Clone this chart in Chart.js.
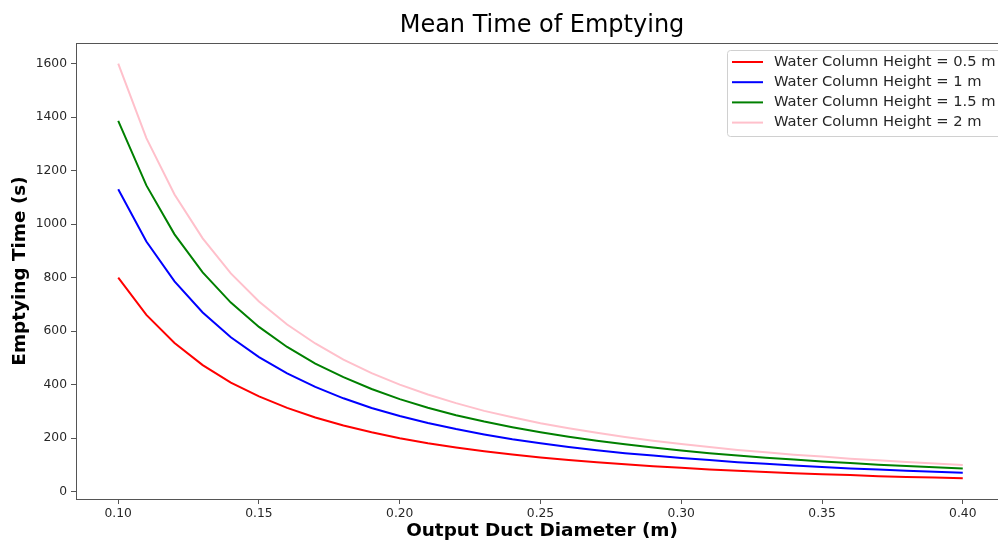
<!DOCTYPE html>
<html>
<head>
<meta charset="utf-8">
<script src="https://cdn.jsdelivr.net/npm/chart.js@4.4.0/dist/chart.umd.min.js"></script>
<style>
    html, body { margin: 0; padding: 0; background: #fff; overflow: hidden; }
    #wrap { width: 1008px; height: 541px; position: relative; }
</style>
</head>
<body>
<div id="wrap"><canvas id="chart"></canvas></div>
<script>
    "use strict";

    // ---- data ----
    const diameters = [0.10, 0.11, 0.12, 0.13, 0.14, 0.15, 0.16, 0.17, 0.18, 0.19, 0.20,
        0.21, 0.22, 0.23, 0.24, 0.25, 0.26, 0.27, 0.28, 0.29, 0.30,
        0.31, 0.32, 0.33, 0.34, 0.35, 0.36, 0.37, 0.38, 0.39, 0.40];

    const heightHalf = [800, 661, 556, 473, 408, 356, 313, 277, 247, 222, 200,
        181, 165, 151, 139, 128, 118, 110, 102, 95, 89,
        83, 78, 73.5, 69, 65, 62, 58, 55, 53, 50];

    const heightOne = [1131, 935, 786, 670, 577, 503, 442, 392, 349, 313, 283,
        257, 234, 214, 196, 181, 167, 155, 144, 135, 126,
        118, 110, 104, 98, 92, 87, 83, 78, 74, 71];

    const heightOneHalf = [1386, 1145, 962, 820, 707, 616, 541, 479, 428, 384, 346,
        314, 286, 262, 241, 222, 205, 190, 177, 165, 154,
        144, 135, 127, 120, 113, 107, 101, 96, 91, 87];

    const heightTwo = [1600, 1322, 1111, 947, 816, 711, 625, 554, 494, 443, 400,
        363, 331, 302, 278, 256, 237, 220, 204, 190, 178,
        167, 156, 147, 138, 131, 123, 117, 111, 105, 100];

    const seriesNames = [
        "Water Column Height = 0.5 m",
        "Water Column Height = 1 m",
        "Water Column Height = 1.5 m",
        "Water Column Height = 2 m"
    ];
    const seriesColors = ["#ff0000", "#0000ff", "#008000", "#ffc0cb"];

    const xTicks = [0.10, 0.15, 0.20, 0.25, 0.30, 0.35, 0.40];
    const yTicks = [0, 200, 400, 600, 800, 1000, 1200, 1400, 1600];

    const FONT = "'DejaVu Sans', sans-serif";
    const INK = "#262626";
    const SPINE = "#555555";

    const toPoints = (ys) => diameters.map((x, i) => ({ x, y: ys[i] }));
    const allSeries = [heightHalf, heightOne, heightOneHalf, heightTwo];

    /* ---------------- extras: spines, titles, legend ---------------- */
    const decorations = {
        id: "decorations",
        afterDraw(chart) {
            const { ctx, chartArea: a } = chart;
            ctx.save();

            // full box like matplotlib spines
            ctx.strokeStyle = SPINE;
            ctx.lineWidth = 1;
            ctx.strokeRect(a.left + 0.5, a.top + 0.5, a.right - a.left, a.bottom - a.top);

            ctx.fillStyle = "#000";
            ctx.textAlign = "center";
            ctx.textBaseline = "middle";

            ctx.font = `24px ${FONT}`;
            ctx.fillText("Mean Time of Emptying", 542, 26);

            ctx.font = `bold 18.4px ${FONT}`;
            ctx.fillText("Output Duct Diameter (m)", 542, 531);

            ctx.save();
            ctx.translate(20, 271);
            ctx.rotate(-Math.PI / 2);
            ctx.fillText("Emptying Time (s)", 0, 0);
            ctx.restore();

            // legend box, top right inside the axes
            const lx = 727, ly = 50, lw = 290, lh = 86;
            ctx.fillStyle = "rgba(255,255,255,0.8)";
            ctx.strokeStyle = "#d0d0d0";
            ctx.lineWidth = 1;
            ctx.beginPath();
            ctx.roundRect(lx + 0.5, ly + 0.5, lw, lh, 3);
            ctx.fill();
            ctx.stroke();

            ctx.font = `14.7px ${FONT}`;
            ctx.textAlign = "left";
            seriesNames.forEach((name, i) => {
                const y = 62 + i * 20.2;
                ctx.strokeStyle = seriesColors[i];
                ctx.lineWidth = 2;
                ctx.beginPath();
                ctx.moveTo(732, y);
                ctx.lineTo(763, y);
                ctx.stroke();
                ctx.fillStyle = INK;
                ctx.fillText(name, 774, y);
            });

            ctx.restore();
        }
    };

    const ctx = document.getElementById("chart");
    ctx.width = 1008;
    ctx.height = 541;

    new Chart(ctx, {
        type: "line",
        data: {
            datasets: allSeries.map((ys, i) => ({
                label: seriesNames[i],
                data: toPoints(ys),
                borderColor: seriesColors[i],
                backgroundColor: seriesColors[i],
                borderWidth: 2,
                pointRadius: 0,
                tension: 0,
                fill: false
            }))
        },
        options: {
            responsive: false,
            animation: false,
            devicePixelRatio: 1,
            layout: { padding: { top: 43, right: 3, left: 0, bottom: 0 } },
            plugins: {
                legend: { display: false },
                title: { display: false },
                tooltip: { enabled: false }
            },
            scales: {
                x: {
                    type: "linear",
                    min: 0.085,
                    max: 0.415,
                    afterBuildTicks: (s) => { s.ticks = xTicks.map(v => ({ value: v })); },
                    afterFit: (s) => { s.height = 541 - 499; },
                    ticks: {
                        color: INK,
                        font: { family: FONT, size: 12.3 },
                        padding: 2,
                        maxRotation: 0,
                        autoSkip: false,
                        callback: (v) => v.toFixed(2)
                    },
                    grid: { drawOnChartArea: false, drawTicks: true, tickLength: 5, color: SPINE },
                    border: { display: true, color: SPINE, width: 1 }
                },
                y: {
                    type: "linear",
                    min: -27.5,
                    max: 1677.5,
                    afterBuildTicks: (s) => { s.ticks = yTicks.map(v => ({ value: v })); },
                    afterFit: (s) => { s.width = 76; },
                    ticks: {
                        color: INK,
                        font: { family: FONT, size: 12.3 },
                        padding: 4,
                        autoSkip: false,
                        callback: (v) => String(v)
                    },
                    grid: { drawOnChartArea: false, drawTicks: true, tickLength: 5, color: SPINE },
                    border: { display: true, color: SPINE, width: 1 }
                }
            }
        },
        plugins: [decorations]
    });
</script>
</body>
</html>
